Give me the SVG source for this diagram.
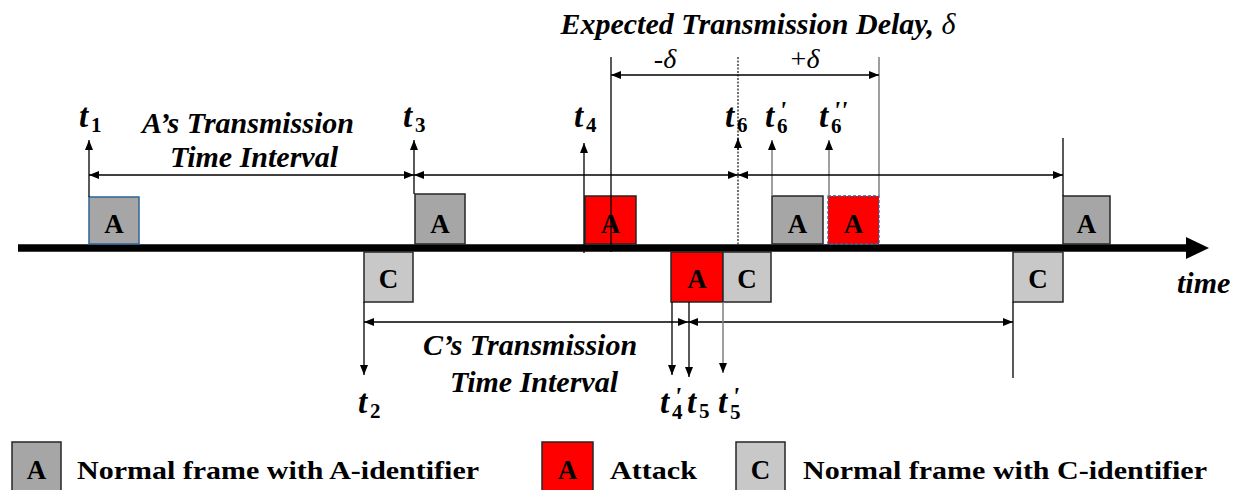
<svg xmlns="http://www.w3.org/2000/svg" width="1239" height="490" viewBox="0 0 1239 490">
<defs>
<marker id="ah" viewBox="0 0 10 8" refX="10" refY="4" markerWidth="10" markerHeight="8" markerUnits="userSpaceOnUse" orient="auto-start-reverse">
<path d="M0,0 L10,4 L0,8 z" fill="#000"/>
</marker>
</defs>
<style>
text{font-family:'Liberation Serif','Times New Roman',Times,serif}
.fa{fill:#a6a6a6;stroke:#262626;stroke-width:1.5}
.fc{fill:#c8c8c8;stroke:#262626;stroke-width:1.5}
.fr{fill:#ff0000;stroke:#262626;stroke-width:1.5}
.lbl{font-weight:bold;font-size:27px;text-anchor:middle;fill:#000}
.it{font-weight:bold;font-style:italic;font-size:30px;fill:#000}
.tt{font-weight:bold;font-style:italic;font-size:33px;fill:#000}
.sub{font-weight:bold;font-style:normal;font-size:21px}
.pr{font-weight:bold;font-style:italic;font-size:26px}
.dl{font-size:28px;fill:#000}
.leg{font-weight:bold;font-size:25px;fill:#000}
.ln{stroke:#000;stroke-width:1.3;fill:none}
.lg{stroke:#7f7f7f;stroke-width:1.5;fill:none}
.arr{stroke:#000;stroke-width:1.3;fill:none;marker-end:url(#ah)}
.arrg{stroke:#7f7f7f;stroke-width:1.5;fill:none;marker-end:url(#ah)}
.dbl{stroke:#000;stroke-width:1.3;fill:none;marker-start:url(#ah);marker-end:url(#ah)}
</style>

<g id="timeline">
<line x1="18" y1="248" x2="1190" y2="248" stroke="#000" stroke-width="7.5"/>
<polygon points="1186,237 1209,248 1186,259" fill="#000"/>
<text class="it" x="1177" y="293">time</text>
</g>

<g id="frame-a1"><rect x="89" y="197" width="50" height="47" fill="#a6a6a6" stroke="#2e6496" stroke-width="1.5"/><text class="lbl" x="114" y="233">A</text></g>
<g id="frame-a3"><rect class="fa" x="415" y="194" width="50" height="50"/><text class="lbl" x="440" y="233">A</text></g>
<g id="frame-attack-a4"><rect class="fr" x="585" y="196" width="51" height="48"/><text class="lbl" x="610.5" y="233">A</text></g>
<g id="frame-a6p"><rect class="fa" x="772" y="196" width="51" height="48"/><text class="lbl" x="797.5" y="233">A</text></g>
<g id="frame-attack-a6pp"><rect x="828" y="196" width="51" height="48" fill="#ff0000" stroke="#2e6496" stroke-width="1.3" stroke-dasharray="3,2"/><text class="lbl" x="853.5" y="233">A</text></g>
<g id="frame-a-last"><rect class="fa" x="1063" y="196" width="47" height="48"/><text class="lbl" x="1086.5" y="233">A</text></g>

<g id="frame-c2"><rect class="fc" x="364" y="252" width="49" height="50"/><text class="lbl" x="388.5" y="288">C</text></g>
<g id="frame-attack-a5"><rect class="fr" x="671" y="252" width="52" height="50"/><text class="lbl" x="697" y="288">A</text></g>
<g id="frame-c5p"><rect class="fc" x="723" y="252" width="48" height="50"/><text class="lbl" x="747" y="288">C</text></g>
<g id="frame-c-last"><rect class="fc" x="1013" y="252" width="50" height="50"/><text class="lbl" x="1038" y="288">C</text></g>

<g id="connectors">
<line class="arr" x1="89" y1="197" x2="89" y2="140"/>
<line class="arr" x1="414" y1="194" x2="414" y2="140"/>
<line class="arr" x1="584" y1="253" x2="584" y2="143"/>
<line x1="738" y1="57" x2="738" y2="245" stroke="#404040" stroke-width="1.5" stroke-dasharray="2,1.5"/>
<line class="arr" x1="738" y1="150" x2="738" y2="138"/>
<line class="arrg" x1="772" y1="196" x2="772" y2="140"/>
<line class="arrg" x1="829" y1="196" x2="829" y2="140"/>
<line class="ln" x1="1063" y1="138" x2="1063" y2="196"/>
<line class="ln" x1="611" y1="57" x2="611" y2="252"/>
<line class="lg" x1="879" y1="57" x2="879" y2="196"/>
<line class="dbl" x1="611" y1="75" x2="879" y2="75"/>
<line class="dbl" x1="89" y1="175" x2="414" y2="175"/>
<line class="dbl" x1="414" y1="175" x2="738" y2="175"/>
<line class="dbl" x1="738" y1="175" x2="1063" y2="175"/>
<line class="dbl" x1="364" y1="322" x2="688" y2="322"/>
<line class="dbl" x1="688" y1="322" x2="1013" y2="322"/>
<line class="arr" x1="364" y1="302" x2="364" y2="375"/>
<line class="arr" stroke="#404040" x1="672" y1="302" x2="672" y2="375"/>
<line class="arr" x1="689" y1="302" x2="689" y2="377"/>
<line class="arrg" x1="723" y1="302" x2="723" y2="373"/>
<line class="ln" x1="1013" y1="302" x2="1013" y2="378"/>
</g>

<g id="labels">
<text class="it" x="758" y="34" text-anchor="middle">Expected Transmission Delay, <tspan font-weight="normal">δ</tspan></text>
<text class="dl" x="665" y="68" text-anchor="middle">-<tspan font-style="italic">δ</tspan></text>
<text class="dl" x="805" y="68" text-anchor="middle">+<tspan font-style="italic">δ</tspan></text>
<text class="it" x="248" y="133" text-anchor="middle">A’s Transmission</text>
<text class="it" x="254" y="167" text-anchor="middle">Time Interval</text>
<text class="it" x="530" y="355" text-anchor="middle">C’s Transmission</text>
<text class="it" x="534" y="392" text-anchor="middle">Time Interval</text>

<text class="tt" x="79" y="127">t<tspan class="sub" x="91" y="132">1</tspan></text>
<text class="tt" x="403" y="127">t<tspan class="sub" x="415" y="132">3</tspan></text>
<text class="tt" x="574" y="127">t<tspan class="sub" x="586" y="132">4</tspan></text>
<text class="tt" x="725" y="127">t<tspan class="sub" x="737" y="132">6</tspan></text>
<text class="tt" x="765" y="127">t<tspan class="pr" x="779" y="119">'</tspan><tspan class="sub" x="777" y="133">6</tspan></text>
<text class="tt" x="819" y="127">t<tspan class="pr" x="833" y="119">''</tspan><tspan class="sub" x="831" y="133">6</tspan></text>
<text class="tt" x="358" y="413">t<tspan class="sub" x="370" y="418">2</tspan></text>
<text class="tt" x="660" y="413">t<tspan class="pr" x="674" y="405">'</tspan><tspan class="sub" x="672" y="419">4</tspan></text>
<text class="tt" x="687" y="413">t<tspan class="sub" x="699" y="418">5</tspan></text>
<text class="tt" x="718" y="413">t<tspan class="pr" x="732" y="405">'</tspan><tspan class="sub" x="730" y="419">5</tspan></text>
</g>

<g id="legend">
<g id="legend-a"><rect class="fa" x="12" y="442" width="49" height="50"/><text class="lbl" x="36.5" y="479" font-size="26">A</text>
<text class="leg" x="77" y="479" textLength="402" lengthAdjust="spacingAndGlyphs">Normal frame with A-identifier</text></g>
<g id="legend-attack"><rect class="fr" x="542" y="442" width="51" height="50"/><text class="lbl" x="567.5" y="479" font-size="26">A</text>
<text class="leg" x="610" y="479" textLength="87" lengthAdjust="spacingAndGlyphs">Attack</text></g>
<g id="legend-c"><rect class="fc" x="736" y="442" width="49" height="50"/><text class="lbl" x="760.5" y="479" font-size="26">C</text>
<text class="leg" x="803" y="479" textLength="404" lengthAdjust="spacingAndGlyphs">Normal frame with C-identifier</text></g>
</g>
</svg>
